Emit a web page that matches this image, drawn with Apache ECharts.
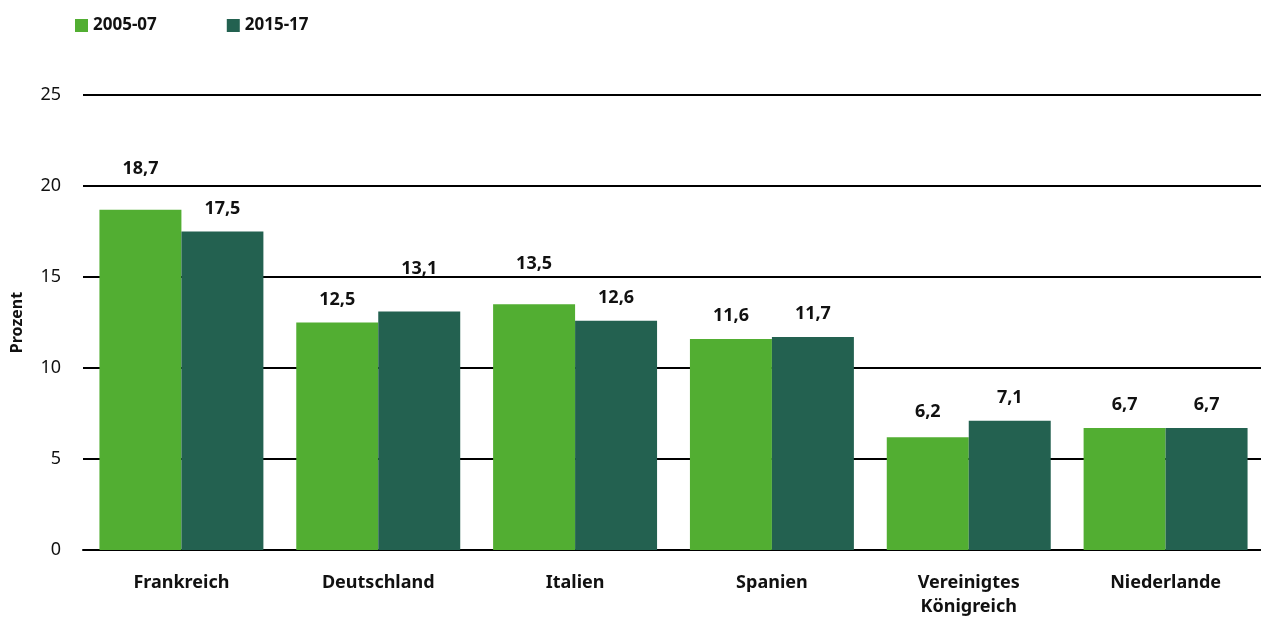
<!DOCTYPE html>
<html>
<head>
<meta charset="utf-8">
<script src="https://cdn.jsdelivr.net/npm/echarts@6/dist/echarts.min.js"></script>
<style>
  html, body { margin: 0; padding: 0; background: #fff; }
  #chart { width: 1261px; height: 619px; }
</style>
</head>
<body>
<div id="chart"></div>
<script>
  // Daten
  const laender = ['Frankreich', 'Deutschland', 'Italien', 'Spanien', 'Vereinigtes\nKönigreich', 'Niederlande']
  const werte2005 = [18.7, 12.5, 13.5, 11.6, 6.2, 6.7]
  const werte2015 = [17.5, 13.1, 12.6, 11.7, 7.1, 6.7]
  const serienNamen = ['2005-07', '2015-17']

  // zusätzliche Verschiebung der Beschriftungen (nur Layout)
  const versatz2005 = [-18, 0, -17, 0, -2, 0]
  const versatz2015 = [0, -20, 0, 0, 0, 0]

  const chart = echarts.init(document.getElementById('chart'))
  const font = '"Noto Sans", "Open Sans", sans-serif'

  function baueLabel() {
    return {
      show: true,
      position: 'top',
      distance: 14,
      fontFamily: font,
      fontSize: 18,
      fontWeight: 'bold',
      color: '#111',
      formatter: p => String(p.value).replace('.', ',')
    }
  }

  function mitVersatz(werte, versatz) {
    return werte.map((v, i) => ({ value: v, label: { offset: [0, versatz[i]] } }))
  }

  const option = {
    animation: false,
    textStyle: { fontFamily: font },
    legend: {
      left: 70,
      top: 12,
      itemWidth: 13,
      itemHeight: 13,
      itemGap: 70,
      icon: 'rect',
      textStyle: { fontFamily: font, fontSize: 17, fontWeight: 'bold', color: '#111' },
      data: serienNamen
    },
    grid: {
      left: 83,
      top: 95,
      bottom: 69,
      width: 1181,
      containLabel: false,
      outerBoundsMode: 'none'
    },
    xAxis: {
      type: 'category',
      data: laender,
      axisLine: { lineStyle: { color: '#000', width: 2 } },
      axisTick: { show: false },
      axisLabel: {
        fontFamily: font,
        fontSize: 18,
        fontWeight: 'bold',
        color: '#111',
        margin: 21,
        lineHeight: 24
      }
    },
    yAxis: {
      type: 'value',
      min: 0,
      max: 25,
      interval: 5,
      name: 'Prozent',
      nameLocation: 'middle',
      nameGap: 58,
      nameTextStyle: { fontFamily: font, fontSize: 16, fontWeight: 'bold', color: '#111' },
      axisLine: { show: false },
      axisTick: { show: false },
      axisLabel: { fontFamily: font, fontSize: 18, color: '#111', margin: 22, align: 'right' },
      splitLine: { lineStyle: { color: '#000', width: 2 } }
    },
    series: [
      {
        name: serienNamen[0],
        type: 'bar',
        data: mitVersatz(werte2005, versatz2005),
        barGap: '0%',
        barCategoryGap: '16.7%',
        itemStyle: { color: '#52ae32' },
        label: baueLabel()
      },
      {
        name: serienNamen[1],
        type: 'bar',
        data: mitVersatz(werte2015, versatz2015),
        itemStyle: { color: '#236150' },
        label: baueLabel()
      }
    ]
  }

  chart.setOption(option)
</script>
</body>
</html>
